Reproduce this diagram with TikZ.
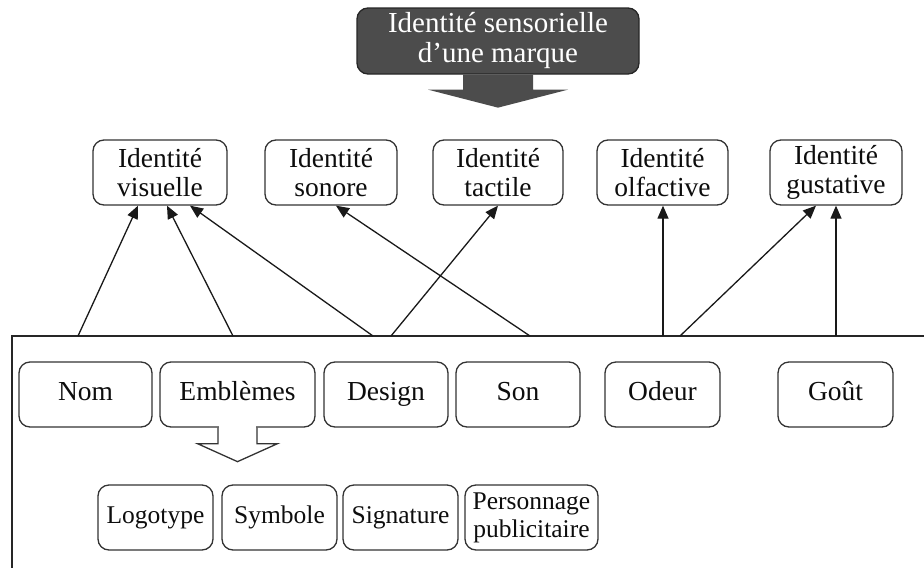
\documentclass[tikz,border=0pt]{standalone}
\usepackage{fontspec}
\setmainfont{Liberation Serif}
\usetikzlibrary{arrows.meta,calc}
\begin{document}
\begin{tikzpicture}[x=1pt,y=-1pt,
  box/.style={draw=black!80,line width=1.3pt,rounded corners=11pt,inner sep=0pt,align=center,
    font=\fontsize{27.5}{29}\selectfont,text=black!95,minimum height=65pt},
  small/.style={font=\fontsize{25.5}{28}\selectfont},
  conn/.style={draw=black!90,line width=1.3pt,-{Triangle[length=13pt,width=11pt]}},
  frameline/.style={draw=black!85,line width=1.3pt},
  darkfill/.style={fill=black!70}
]
\useasboundingbox (0,0) rectangle (924,568);
% top node
\node[box,darkfill,draw=black!85,text=white,minimum width=282pt,minimum height=66pt,
  font=\fontsize{29}{30}\selectfont] (top) at (498,41)
  {Identité sensorielle\\d’une marque};
\fill[black!70] ($(top.south)+(-35,0)$) -- ++(0,15) -- ++(-35,0) -- ($(top.south)+(0,33)$)
  -- ($(top.south)+(70,15)$) -- ++(-35,0) -- ++(0,-15) -- cycle;
% identities
\node[box,minimum width=134pt] (vis) at (160,172.5) {Identité\\visuelle};
\node[box,minimum width=132pt] (son) at (331,172.5) {Identité\\sonore};
\node[box,minimum width=130pt] (tac) at (498,172.5) {Identité\\tactile};
\node[box,minimum width=131pt] (olf) at (662.5,172.5) {Identité\\olfactive};
\node[box,minimum width=132pt] (gus) at (836,172.5) {Identité\\gustative};
% frame
\coordinate (fl) at (12,336);
\coordinate (fr) at (924,336);
\coordinate (fb) at (12,568);
\draw[frameline] (fr) -- (fl) -- (fb);
% elements
\node[box,minimum width=133pt] (nom) at (85.5,394.5) {Nom\strut};
\node[box,minimum width=155pt] (emb) at (237.5,394.5) {Emblèmes\strut};
\node[box,minimum width=124pt] (des) at (386,394.5) {Design\strut};
\node[box,minimum width=124pt] (sn) at (518,394.5) {Son\strut};
\node[box,minimum width=115pt] (ode) at (662.5,394.5) {Odeur\strut};
\node[box,minimum width=115pt] (gou) at (835.5,394.5) {Goût\strut};
% emblèmes callout arrow
\fill[white] ($(emb.south)+(-18.8,-1.5)$) rectangle ($(emb.south)+(18.8,1.5)$);
\draw[black!80,line width=1.3pt,line join=miter]
  ($(emb.south)+(-19.5,0)$) -- ++(0,16) -- ++(-20.5,0) -- ($(emb.south)+(0,34)$)
  -- ($(emb.south)+(40,16)$) -- ++(-20.5,0) -- ++(0,-16);
% sub emblems
\node[box,small,minimum width=115pt] (logo) at (155.5,517.5) {Logotype\strut};
\node[box,small,minimum width=115pt] (sym) at (279.5,517.5) {Symbole\strut};
\node[box,small,minimum width=115pt] (sig) at (400.5,517.5) {Signature\strut};
\node[box,small,minimum width=133pt] (per) at (531.5,517.5) {Personnage\\publicitaire};
% connector starts on frame top
\coordinate (s1) at (78,336);
\coordinate (s2) at (233,336);
\coordinate (s3) at (373,336);
\coordinate (s4) at (391,336);
\coordinate (s5) at (530,336);
\coordinate (s6) at (663,336);
\coordinate (s7) at (680,336);
\coordinate (s8) at (836,336);
\draw[conn] (s1) -- ($(vis.south)+(-22,0)$);
\draw[conn] (s2) -- ($(vis.south)+(7,0)$);
\draw[conn] (s3) -- ($(vis.south)+(30,0)$);
\draw[conn] (s4) -- ($(tac.south)+(0,0)$);
\draw[conn] (s5) -- ($(son.south)+(5,0)$);
\draw[conn] (s6) -- (s6 |- olf.south);
\draw[conn] (s7) -- ($(gus.south)+(-20,0)$);
\draw[conn] (s8) -- (s8 |- gus.south);
\end{tikzpicture}
\end{document}
